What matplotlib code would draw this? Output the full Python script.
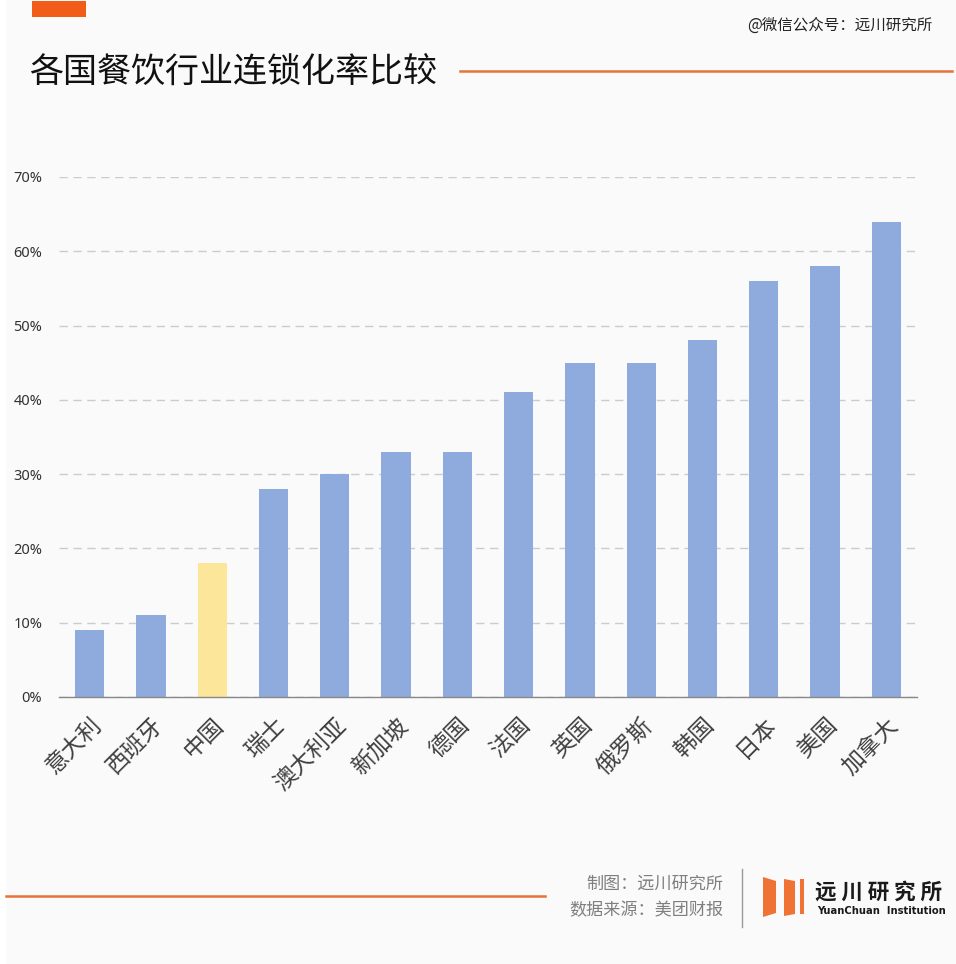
import matplotlib
matplotlib.use("Agg")
import matplotlib.pyplot as plt
from matplotlib.patches import Rectangle, Polygon
from matplotlib.lines import Line2D
from matplotlib.ticker import FuncFormatter, MultipleLocator

plt.rcParams['font.family'] = ['Noto Sans CJK SC', 'DejaVu Sans']

countries = ["意大利", "西班牙", "中国", "瑞士", "澳大利亚", "新加坡", "德国",
             "法国", "英国", "俄罗斯", "韩国", "日本", "美国", "加拿大"]
chain_rate = [0.09, 0.11, 0.18, 0.28, 0.30, 0.33, 0.33,
              0.41, 0.45, 0.45, 0.48, 0.56, 0.58, 0.64]
highlight = "中国"

W, H = 956, 964
fig = plt.figure(figsize=(W / 100, H / 100), dpi=100, facecolor="#FAFAFA")

def fx(x):
    return x / W

def fy(y):
    return 1 - y / H

# white left strip
fig.patches.append(Rectangle((0, 0), fx(6), 1, transform=fig.transFigure,
                             facecolor="white", edgecolor="none", zorder=0))

ax = fig.add_axes([fx(59), fy(697), fx(917) - fx(59), fy(177) - fy(697)])
ax.set_facecolor("#FAFAFA")
colors = ["#FCE699" if c == highlight else "#8FAADC" for c in countries]
x = list(range(len(countries)))
ax.bar(x, chain_rate, width=0.48, color=colors, zorder=3)
ax.set_xlim(-0.5, len(countries) - 0.5)
ax.set_ylim(0, 0.70)
ax.yaxis.set_major_locator(MultipleLocator(0.10))
ax.yaxis.set_major_formatter(FuncFormatter(lambda v, p: f"{round(v * 100)}%"))
ax.grid(axis="y", color="#CCCCCC", linestyle=(0, (6, 4)), linewidth=1, zorder=0)
ax.tick_params(axis="y", length=0, pad=12, labelsize=10.5, labelcolor="#333333")
for lab in ax.get_yticklabels():
    lab.set_family(['Noto Sans', 'DejaVu Sans'])
ax.set_xticks(x)
ax.set_xticklabels(countries, rotation=45, ha="right", rotation_mode="anchor",
                   fontsize=16.5, color="#404040")
ax.tick_params(axis="x", length=0, pad=12)
for s in ["top", "right", "left"]:
    ax.spines[s].set_visible(False)
ax.spines["bottom"].set_color("#888888")
ax.spines["bottom"].set_linewidth(1)
ax.spines["bottom"].set_zorder(4)

# top orange tab
fig.patches.append(Rectangle((fx(32), fy(17)), fx(86) - fx(32), fy(1) - fy(17),
                             transform=fig.transFigure, facecolor="#F25C19",
                             edgecolor="none"))
# title
fig.text(fx(29), fy(72), "各国餐饮行业连锁化率比较", fontsize=24.5, color="#111111",
         ha="left", va="center")
# title line
fig.lines.append(Line2D([fx(460), fx(952)], [fy(71), fy(71)], transform=fig.transFigure,
                        color="#E8733A", linewidth=1.8))
# watermark
fig.text(fx(932), fy(25), "@微信公众号：远川研究所", fontsize=11.2, color="#222222",
         ha="right", va="center")

# bottom line
fig.lines.append(Line2D([fx(6), fx(545)], [fy(896), fy(896)], transform=fig.transFigure,
                        color="#E8733A", linewidth=1.8))
# footer text
fig.text(fx(723), fy(884), "制图：远川研究所", fontsize=12.3, color="#7F7F7F",
         ha="right", va="center")
fig.text(fx(723), fy(910), "数据来源：美团财报", fontsize=12.3, color="#7F7F7F",
         ha="right", va="center")
# separator
fig.lines.append(Line2D([fx(742), fx(742)], [fy(869), fy(927)], transform=fig.transFigure,
                        color="#999999", linewidth=1))
# logo bars
logo_polys = [
    [(763, 877), (776, 881), (776, 913), (763, 917)],
    [(784, 879), (795, 881), (795, 914), (784, 916)],
    [(800, 879), (804, 879), (804, 914), (800, 914)],
]
for poly in logo_polys:
    fig.patches.append(Polygon([(fx(a), fy(b)) for a, b in poly], closed=True,
                               transform=fig.transFigure, facecolor="#F07336",
                               edgecolor="none"))
fig.text(fx(815), fy(892), "远 川 研 究 所", fontsize=15.5, fontweight="bold",
         color="#1A1A1A", ha="left", va="center")
fig.text(fx(817), fy(911), "YuanChuan  Institution", fontsize=7.2, fontweight="bold",
         color="#1A1A1A", ha="left", va="center", family=['DejaVu Sans'])

fig.savefig("out.png", dpi=100, facecolor=fig.get_facecolor())
